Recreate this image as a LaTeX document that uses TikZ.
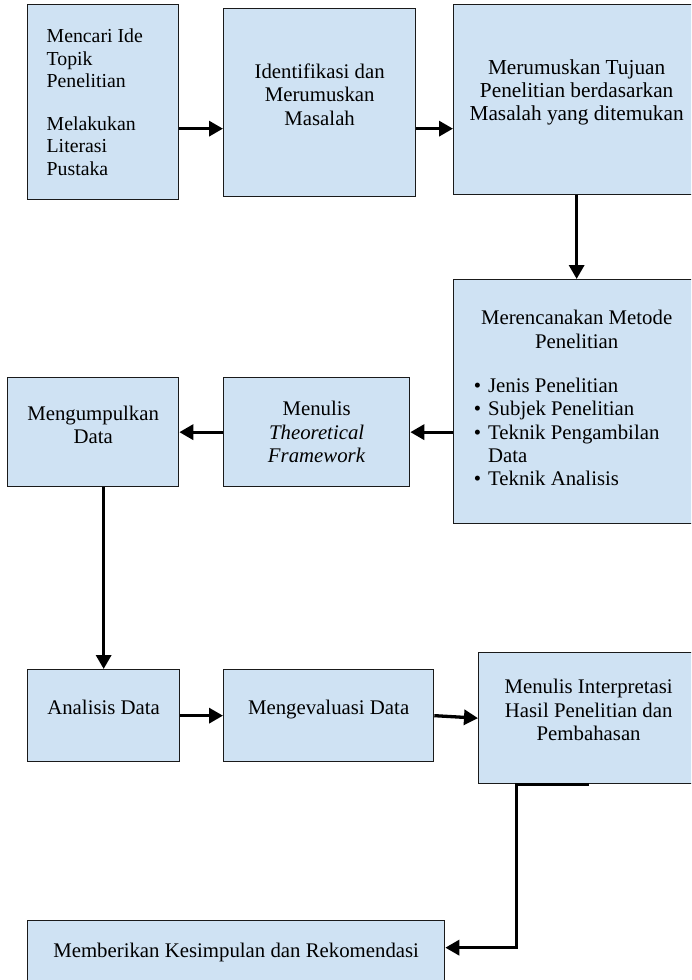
\documentclass[tikz,border=0pt]{standalone}
\usepackage{fontspec}
\setmainfont{Liberation Serif}
\usetikzlibrary{arrows.meta,calc}
\definecolor{boxblue}{HTML}{CFE2F3}
\definecolor{boxline}{HTML}{1A1A1A}
\newcommand{\liftby}[1]{\\[#1]\mbox{}}
\tikzset{
  stepbox/.style={rectangle, draw=boxline, line width=1.3pt, fill=boxblue,
    anchor=north west, inner sep=4pt, align=center,
    font=\fontsize{20.8}{23.3}\selectfont},
  arrblk/.style={-{Triangle[length=14pt,width=15pt]}, line width=3.3pt, black},
}

\begin{document}
\begin{tikzpicture}[x=1pt, y=-1pt]

\useasboundingbox (0,0) rectangle (691,980);
\clip (0,0) rectangle (691,980);

% ---------------- ROW 1 ----------------
\node[stepbox, align=flush left, text width=113pt, inner xsep=19pt,
  minimum width=151pt, minimum height=195pt,
  font=\fontsize{19.8}{22.6}\selectfont] (n-ide) at (27,4)
  {Mencari Ide\\Topik\\Penelitian\\[20pt]Melakukan\\Literasi\\Pustaka};
\node[stepbox, minimum width=192pt, minimum height=188pt] (n-masalah) at (223,8)
  {Identifikasi dan\\Merumuskan\\Masalah\liftby{-7pt}};
\node[stepbox, minimum width=246pt, minimum height=190pt,
  font=\fontsize{21.3}{23.3}\selectfont] (n-tujuan) at (453,4)
  {Merumuskan Tujuan\\Penelitian berdasarkan\\Masalah yang ditemukan\liftby{-4pt}};

% ---------------- ROW 2 ----------------
\node[stepbox, minimum width=246pt, minimum height=244pt] (n-metode) at (453,279)
  {Merencanakan Metode\\Penelitian\\[21pt]
   \hspace*{-20pt}\begin{tabular}[t]{@{}l@{\hspace{7pt}}l@{}}
   \textbullet & Jenis Penelitian\\
   \textbullet & Subjek Penelitian\\
   \textbullet & Teknik Pengambilan\\
               & Data\\
   \textbullet & Teknik Analisis
   \end{tabular}};
\node[stepbox, minimum width=186pt, minimum height=109pt] (n-teori) at (223,377)
  {Menulis\\\textit{Theoretical}\\\textit{Framework}};
\node[stepbox, minimum width=171pt, minimum height=109pt] (n-kumpul) at (7,377)
  {Mengumpulkan\\Data\liftby{-9pt}};

% ---------------- ROW 3 ----------------
\node[stepbox, minimum width=152pt, minimum height=92pt] (n-analisis) at (27,669)
  {Analisis Data\liftby{-7pt}};
\node[stepbox, minimum width=210pt, minimum height=92pt] (n-evaluasi) at (223,669)
  {Mengevaluasi Data\liftby{-7pt}};
\node[stepbox, minimum width=220pt, minimum height=131pt] (n-interp) at (478,652)
  {Menulis Interpretasi\\Hasil Penelitian dan\\Pembahasan\liftby{-7pt}};

% ---------------- ROW 4 ----------------
\node[stepbox, minimum width=417pt, minimum height=64pt] (n-final) at (27,920)
  {Memberikan Kesimpulan dan Rekomendasi};

% ================= ARROWS =================
\coordinate (c-a1) at ($(n-ide.east)+(0,26.5)$);
\coordinate (c-a2) at ($(n-masalah.east)+(0,26)$);
\draw[arrblk] (c-a1) -- (c-a1 -| n-masalah.west);
\draw[arrblk] (c-a2) -- (c-a2 -| n-tujuan.west);
\draw[arrblk] (n-tujuan.south) -- (n-metode.north);
\draw[arrblk] (n-metode.west |- n-teori.east) -- (n-teori.east);
\draw[arrblk] (n-teori.west) -- (n-kumpul.east);
\draw[arrblk] (n-analisis.north |- n-kumpul.south) -- (n-analisis.north);
\draw[arrblk] (n-analisis.east) -- (n-evaluasi.west);
\draw[arrblk] (n-evaluasi.east) -- (n-interp.west);

% ---- down to the conclusion ----
\coordinate (c-fin) at ($(n-final.east)+(0,-5)$);
\draw[arrblk] (n-interp.south) -- ++(-72,0) |- (c-fin);

\end{tikzpicture}
\end{document}
